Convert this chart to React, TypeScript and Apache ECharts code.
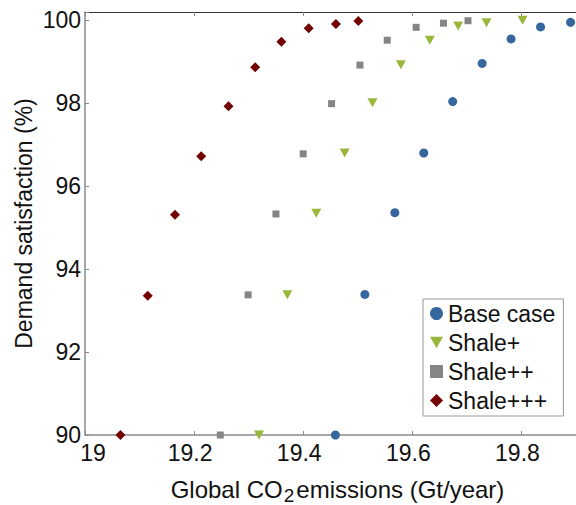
import React, { useEffect, useRef } from "react";
import * as echarts from "echarts";

const FONT = "'Liberation Sans', Arial, sans-serif";

const seriesNames = ["Base case", "Shale+", "Shale++", "Shale+++"];

const baseX = [19.459, 19.513, 19.568, 19.621, 19.674, 19.728, 19.781, 19.835, 19.89];
const baseY = [90, 93.39, 95.36, 96.8, 98.04, 98.96, 99.55, 99.84, 99.95];

const shale1X = [19.319, 19.371, 19.424, 19.476, 19.527, 19.579, 19.632, 19.684, 19.736, 19.802];
const shale1Y = [90, 93.38, 95.35, 96.8, 98.01, 98.93, 99.52, 99.86, 99.94, 100.0];

const shale2X = [19.248, 19.299, 19.35, 19.4, 19.452, 19.504, 19.554, 19.607, 19.657, 19.702];
const shale2Y = [90, 93.38, 95.33, 96.78, 97.99, 98.92, 99.52, 99.83, 99.93, 99.99];

const shale3X = [19.065, 19.115, 19.165, 19.213, 19.263, 19.312, 19.36, 19.41, 19.46, 19.501];
const shale3Y = [90, 93.36, 95.31, 96.72, 97.93, 98.87, 99.48, 99.81, 99.91, 99.98];

const xMin = 19;
const xMax = 19.9;
const xInterval = 0.2;
const yMin = 90;
const yMax = 100.2;
const yInterval = 2;

const colors = ["#35669d", "#99b83b", "#858585", "#730000"];

const pairs = (xs: number[], ys: number[]) => xs.map((x, i) => [x, ys[i]]);

export default function App() {
  const ref = useRef<HTMLDivElement>(null);
  useEffect(() => {
    document.body.style.margin = "0";
    if (!ref.current) return;
    const chart = echarts.init(ref.current, null, { renderer: "svg" });
    const axisGray = "#8a8a8a";
    const xFmt = (v: number) => {
      if (Math.abs(v * 5 - Math.round(v * 5)) > 1e-6) return "";
      if (Math.abs(v - xMin) < 1e-6) return "{f|19}";
      return v.toFixed(1);
    };
    const yFmt = (v: number) => (Math.abs(v / 2 - Math.round(v / 2)) < 1e-6 ? String(Math.round(v)) : "");
    chart.setOption({
      animation: false,
      backgroundColor: "#fff",
      grid: { left: 85, top: 12, right: 0, bottom: 70, outerBoundsMode: "none", containLabel: false },
      legend: {
        orient: "vertical",
        left: 423,
        top: 299,
        padding: [3, 8, 4, 7],
        itemGap: 6,
        itemWidth: 13,
        itemHeight: 13,
        borderColor: "#999",
        borderWidth: 1,
        backgroundColor: "#fff",
        textStyle: { fontSize: 23, color: "#111", fontFamily: FONT },
        data: seriesNames,
      },
      xAxis: [
        {
          type: "value",
          position: "bottom",
          min: xMin,
          max: xMax,
          interval: xInterval,
          axisLine: { lineStyle: { color: axisGray, width: 1.5 } },
          axisTick: { inside: true, length: 4, lineStyle: { color: axisGray } },
          axisLabel: {
            formatter: xFmt,
            fontSize: 23,
            color: "#111",
            margin: 6,
            fontFamily: FONT,
            padding: [0, 8, 0, 0],
            rich: {
              f: { fontSize: 23, color: "#111", fontFamily: FONT, padding: [0, 0, 0, 24] },
            },
          },
          splitLine: { show: false },
          name: "{a|Global CO}{s|2}{a|emissions (Gt/year)}",
          nameLocation: "middle",
          nameGap: 38,
          nameMoveOverlap: false,
          nameTextStyle: {
            padding: [0, 0, 0, 14],
            rich: {
              a: { fontSize: 24, color: "#111", fontFamily: FONT },
              s: { fontSize: 19, color: "#111", fontFamily: FONT, padding: [13, 2, 0, 1] },
            },
          },
        },
        {
          type: "value",
          position: "top",
          min: xMin,
          max: xMax,
          interval: xInterval,
          axisLine: { lineStyle: { color: "#333", width: 1.2 } },
          axisTick: { inside: true, length: 4, lineStyle: { color: axisGray } },
          axisLabel: { show: false },
          splitLine: { show: false },
        },
      ],
      yAxis: {
        type: "value",
        min: yMin,
        max: yMax,
        interval: yInterval,
        axisLine: { show: true, lineStyle: { color: axisGray, width: 1.5 } },
        axisTick: { show: true, inside: true, length: 4, lineStyle: { color: axisGray } },
        axisLabel: { formatter: yFmt, fontSize: 23, color: "#111", margin: 4, fontFamily: FONT },
        splitLine: { show: false },
        name: "Demand satisfaction (%)",
        nameLocation: "middle",
        nameGap: 50,
        nameMoveOverlap: false,
        nameTextStyle: { fontSize: 23, color: "#111", fontFamily: FONT },
      },
      series: [
        {
          name: seriesNames[0],
          type: "scatter",
          clip: false,
          symbol: "circle",
          symbolSize: 9,
          itemStyle: { color: colors[0], opacity: 1 },
          data: pairs(baseX, baseY),
        },
        {
          name: seriesNames[1],
          type: "scatter",
          clip: false,
          symbol: "path://M0,0L10,0L5,8.7Z",
          symbolSize: [10, 9],
          itemStyle: { color: colors[1], opacity: 1 },
          data: pairs(shale1X, shale1Y),
        },
        {
          name: seriesNames[2],
          type: "scatter",
          clip: false,
          symbol: "rect",
          symbolSize: 7,
          itemStyle: { color: colors[2], opacity: 1 },
          data: pairs(shale2X, shale2Y),
        },
        {
          name: seriesNames[3],
          type: "scatter",
          clip: false,
          symbol: "diamond",
          symbolSize: 10,
          itemStyle: { color: colors[3], opacity: 1 },
          data: pairs(shale3X, shale3Y),
        },
      ],
    });
    return () => chart.dispose();
  }, []);
  return <div ref={ref} style={{ width: 576, height: 505 }} />;
}
